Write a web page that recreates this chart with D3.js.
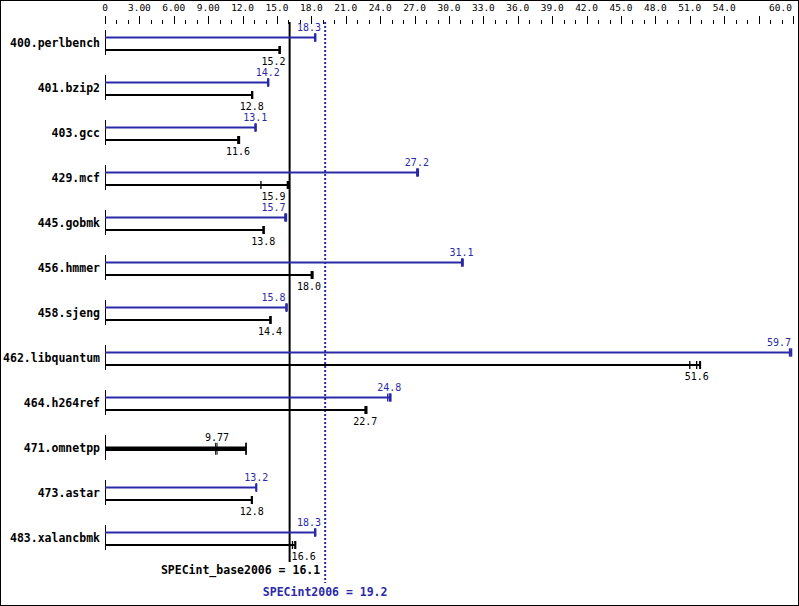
<!DOCTYPE html>
<html>
<head>
<meta charset="utf-8">
<script src="https://cdn.jsdelivr.net/npm/d3@7"></script>
<style>
  html, body { margin: 0; padding: 0; background: #fff; }
  svg { display: block; }
</style>
</head>
<body>
<svg id="chart" width="799" height="606"></svg>
<script>
// ---------------- data ----------------
const benchmarks = ["400.perlbench","401.bzip2","403.gcc","429.mcf","445.gobmk","456.hmmer",
  "458.sjeng","462.libquantum","464.h264ref","471.omnetpp","473.astar","483.xalancbmk"];
const baseMedian = [15.2, 12.8, 11.6, 15.9, 13.8, 18.0, 14.4, 51.6, 22.7, 9.77, 12.8, 16.6];
const baseRuns = [
  [15.2, 15.2, 15.25], [12.8, 12.8, 12.85], [11.6, 11.6, 11.7], [13.6, 15.9, 16.0],
  [13.8, 13.8, 13.85], [18.0, 18.0, 18.1], [14.4, 14.4, 14.45], [51.0, 51.6, 51.9],
  [22.7, 22.7, 22.8], [9.65, 9.77, 12.3], [12.8, 12.8, 12.8], [16.35, 16.6, 16.6]];
const peakMedian = [18.3, 14.2, 13.1, 27.2, 15.7, 31.1, 15.8, 59.7, 24.8, null, 13.2, 18.3];
const peakRuns = [
  [18.3, 18.3, 18.35], [14.2, 14.2, 14.25], [13.1, 13.1, 13.15], [27.2, 27.2, 27.3],
  [15.7, 15.7, 15.8], [31.1, 31.1, 31.2], [15.8, 15.8, 15.85], [59.7, 59.7, 59.85],
  [24.65, 24.8, 24.9], null, [13.2, 13.2, 13.2], [18.3, 18.3, 18.35]];
const baseMean = 16.1;
const peakMean = 19.2;
const baseMeanLabel = "SPECint_base2006 = 16.1";
const peakMeanLabel = "SPECint2006 = 19.2";
const tickValues = [0,3,6,9,12,15,18,21,24,27,30,33,36,39,42,45,48,51,54,60];
const tickLabels = ["0","3.00","6.00","9.00","12.0","15.0","18.0","21.0","24.0","27.0","30.0",
  "33.0","36.0","39.0","42.0","45.0","48.0","51.0","54.0","60.0"];

// ---------------- setup ----------------
const W = 799, H = 606;
const BLUE = "#2a2aa8";
const MONO = "'DejaVu Sans Mono', 'Liberation Mono', monospace";
const svg = d3.select("#chart");
const x = d3.scaleLinear().domain([0, 60]).range([105, 793]);
const rowStep = 45, row0 = 0;
const labelY = i => 46.7 + rowStep * i;
const peakY = i => 37.5 + rowStep * i;
const baseY = i => 50 + rowStep * i;
const fmt = d3.format(".3r");

// border
svg.append("rect").attr("x", 0.5).attr("y", 0.5).attr("width", W - 1).attr("height", H - 1)
  .attr("fill", "none").attr("stroke", "#000").attr("stroke-width", 1);

// top axis ticks
const minor = d3.range(0, 61, 1);
svg.append("g").selectAll("line").data(minor).join("line")
  .attr("x1", d => Math.round(x(d)) + 0.5).attr("x2", d => Math.round(x(d)) + 0.5)
  .attr("y1", d => d % 3 === 0 ? 16 : 20).attr("y2", 24)
  .attr("stroke", "#000").attr("stroke-width", 1);

svg.append("g").selectAll("text").data(tickValues).join("text")
  .attr("x", d => d === 60 ? x(d) - 1 : x(d))
  .attr("y", 11)
  .attr("text-anchor", d => d === 60 ? "end" : "middle")
  .attr("font-family", MONO).attr("font-size", "9.5px").attr("fill", "#000")
  .text((d, i) => tickLabels[i]);

// vertical mean lines
const xBase = x(baseMean), xPeak = x(peakMean);
svg.append("line").attr("x1", xBase).attr("x2", xBase).attr("y1", 22).attr("y2", 562)
  .attr("stroke", "#000").attr("stroke-width", 2);
svg.append("line").attr("x1", xPeak).attr("x2", xPeak).attr("y1", 22).attr("y2", 583)
  .attr("stroke", BLUE).attr("stroke-width", 2).attr("stroke-dasharray", "2,2");

// measure text width helper
const measure = svg.append("text").attr("font-family", MONO).attr("font-size", "10px")
  .attr("x", -1000).attr("y", -1000);
function textWidth(t) { measure.text(t); return measure.node().getComputedTextLength(); }

// place label centered at cx, avoiding mean lines and right edge; returns start x
function placeLabel(cx, w) {
  let start = cx - w / 2;
  const lines = [xBase, xPeak];
  for (const L of lines) {
    if (start < L + 2 && start + w > L - 2) {
      if (cx < L) start = L - 4 - w; else start = L + 2;
    }
  }
  for (const L of lines) {
    if (start < L + 2 && start + w > L - 2) start = L - 4 - w;
  }
  if (start + w > W - 8) start = W - 8 - w;
  return start;
}

const g = svg.append("g");
benchmarks.forEach((name, i) => {
  // row label
  g.append("text").attr("x", 100).attr("y", labelY(i)).attr("text-anchor", "end")
    .attr("font-family", MONO).attr("font-weight", "bold").attr("font-size", "11.5px")
    .attr("fill", "#000").text(name);
  // row start line
  g.append("line").attr("x1", x(0) + 0.5).attr("x2", x(0) + 0.5)
    .attr("y1", 30 + rowStep * i).attr("y2", 55 + rowStep * i)
    .attr("stroke", "#000").attr("stroke-width", 1);

  if (peakRuns[i] === null) {
    // single combined thick bar
    const yc = (peakY(i) + baseY(i)) / 2;
    const runs = baseRuns[i];
    const mx = d3.max(runs);
    g.append("line").attr("x1", x(0)).attr("x2", x(mx)).attr("y1", yc).attr("y2", yc)
      .attr("stroke", "#000").attr("stroke-width", 4.5);
    runs.forEach(r => {
      g.append("line").attr("x1", x(r)).attr("x2", x(r)).attr("y1", yc - 6).attr("y2", yc + 6)
        .attr("stroke", "#000").attr("stroke-width", 1);
    });
    g.append("line").attr("x1", x(mx)).attr("x2", x(mx)).attr("y1", yc - 6).attr("y2", yc + 6)
      .attr("stroke", "#000").attr("stroke-width", 1.5);
    const t = fmt(baseMedian[i]);
    const w = textWidth(t);
    g.append("text").attr("x", placeLabel(x(baseMedian[i]), w)).attr("y", yc - 8)
      .attr("font-family", MONO).attr("font-size", "10px").attr("fill", "#000").text(t);
    return;
  }

  // peak (blue)
  const pr = peakRuns[i], pm = d3.max(pr);
  g.append("line").attr("x1", x(0)).attr("x2", x(pm)).attr("y1", peakY(i)).attr("y2", peakY(i))
    .attr("stroke", BLUE).attr("stroke-width", 2);
  pr.forEach(r => {
    g.append("line").attr("x1", x(r)).attr("x2", x(r)).attr("y1", peakY(i) - 4).attr("y2", peakY(i) + 4)
      .attr("stroke", BLUE).attr("stroke-width", 1.3);
  });
  g.append("line").attr("x1", x(pm)).attr("x2", x(pm)).attr("y1", peakY(i) - 4).attr("y2", peakY(i) + 4)
    .attr("stroke", BLUE).attr("stroke-width", 2);
  const pt = fmt(peakMedian[i]);
  const pw = textWidth(pt);
  g.append("text").attr("x", placeLabel(x(peakMedian[i]), pw)).attr("y", peakY(i) - 7)
    .attr("font-family", MONO).attr("font-size", "10px").attr("fill", BLUE).text(pt);

  // base (black)
  const br = baseRuns[i], bm = d3.max(br);
  g.append("line").attr("x1", x(0)).attr("x2", x(bm)).attr("y1", baseY(i)).attr("y2", baseY(i))
    .attr("stroke", "#000").attr("stroke-width", 2);
  br.forEach(r => {
    g.append("line").attr("x1", x(r)).attr("x2", x(r)).attr("y1", baseY(i) - 4).attr("y2", baseY(i) + 4)
      .attr("stroke", "#000").attr("stroke-width", 1.3);
  });
  g.append("line").attr("x1", x(bm)).attr("x2", x(bm)).attr("y1", baseY(i) - 4).attr("y2", baseY(i) + 4)
    .attr("stroke", "#000").attr("stroke-width", 2);
  const bt = fmt(baseMedian[i]);
  const bw = textWidth(bt);
  g.append("text").attr("x", placeLabel(x(baseMedian[i]), bw)).attr("y", baseY(i) + 15)
    .attr("font-family", MONO).attr("font-size", "10px").attr("fill", "#000").text(bt);
});
measure.remove();

// mean labels
svg.append("text").attr("x", xPeak - 5).attr("y", 574).attr("text-anchor", "end")
  .attr("font-family", MONO).attr("font-weight", "bold").attr("font-size", "11.5px")
  .attr("fill", "#000").text(baseMeanLabel);
svg.append("text").attr("x", xPeak).attr("y", 596).attr("text-anchor", "middle")
  .attr("font-family", MONO).attr("font-weight", "bold").attr("font-size", "11.5px")
  .attr("fill", BLUE).text(peakMeanLabel);
</script>
</body>
</html>
